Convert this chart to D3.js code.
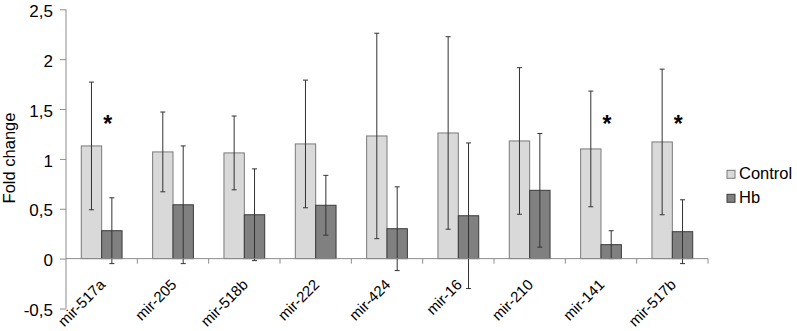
<!DOCTYPE html>
<html>
<head>
<meta charset="utf-8">
<script src="https://cdn.jsdelivr.net/npm/d3@7"></script>
<style>
  body { margin: 0; background: #fff; }
  svg text { font-family: "Liberation Sans", Arial, sans-serif; fill: #000; }
</style>
</head>
<body>
<div id="chart"></div>
<script>
var categories = ["mir-517a", "mir-205", "mir-518b", "mir-222", "mir-424", "mir-16", "mir-210", "mir-141", "mir-517b"];
var series = ["Control", "Hb"];
var control = [1.13, 1.07, 1.06, 1.15, 1.23, 1.26, 1.18, 1.10, 1.17];
var controlErr = [0.64, 0.40, 0.37, 0.64, 1.03, 0.965, 0.735, 0.58, 0.73];
var hb = [0.28, 0.54, 0.44, 0.535, 0.30, 0.43, 0.685, 0.14, 0.27];
var hbErr = [0.33, 0.59, 0.46, 0.30, 0.42, 0.73, 0.57, 0.14, 0.32];
var significant = ["mir-517a", "mir-141", "mir-517b"];
var yTicks = [-0.5, 0, 0.5, 1, 1.5, 2, 2.5];
var yTickLabels = ["-0,5", "0", "0,5", "1", "1,5", "2", "2,5"];

var width = 797, height = 331;
var plot = {left: 66, right: 708, top: 9.3, bottom: 308.5};

var svg = d3.select("#chart").append("svg")
  .attr("width", width)
  .attr("height", height);

// scales
var x0 = d3.scaleBand().domain(categories).range([plot.left, plot.right]).padding(0);
var gap = x0.bandwidth() * 0.75 / 1.75 / 2;
var x1 = d3.scaleBand().domain(series).range([gap, x0.bandwidth() - gap]).padding(0);
var y = d3.scaleLinear().domain([-0.5, 2.5]).range([plot.bottom, plot.top]);

var colors = {Control: "#d9d9d9", Hb: "#808080"};
var strokes = {Control: "#7a7a7a", Hb: "#3a3a3a"};

var rows = [];
categories.forEach(function(c, i) {
  rows.push({cat: c, s: "Control", v: control[i], e: controlErr[i]});
  rows.push({cat: c, s: "Hb", v: hb[i], e: hbErr[i]});
});

// y axis
var yAxis = svg.append("g")
  .attr("transform", "translate(" + plot.left + ",0)")
  .call(d3.axisLeft(y).tickValues(yTicks).tickSize(6).tickPadding(7)
    .tickFormat(function(d, i) { return yTickLabels[i]; }));
yAxis.select(".domain").attr("stroke", "#8c8c8c").attr("d", "M0," + y(2.5) + "V" + y(-0.5));
yAxis.selectAll(".tick line").attr("stroke", "#8c8c8c");
yAxis.selectAll(".tick text").attr("font-size", 17).attr("dy", "0.42em");

// bars
var bar = svg.selectAll(".bar")
  .data(rows)
  .enter()
  .append("g")
  .attr("class", "bar")
  .attr("transform", function(d) { return "translate(" + (x0(d.cat) + x1(d.s)) + ",0)"; });

bar.append("rect")
  .attr("x", 0)
  .attr("y", function(d) { return y(d.v); })
  .attr("width", x1.bandwidth())
  .attr("height", function(d) { return y(0) - y(d.v); })
  .attr("fill", function(d) { return colors[d.s]; })
  .attr("stroke", function(d) { return strokes[d.s]; })
  .attr("stroke-width", 1);

// x axis on zero line
var xAxis = svg.append("g")
  .attr("transform", "translate(0," + y(0) + ")");
xAxis.append("line")
  .attr("x1", plot.left).attr("x2", plot.right)
  .attr("stroke", "#8c8c8c");
xAxis.selectAll(".xtick")
  .data(categories)
  .enter()
  .append("line")
  .attr("x1", function(d) { return x0(d) + x0.bandwidth(); })
  .attr("x2", function(d) { return x0(d) + x0.bandwidth(); })
  .attr("y1", 0).attr("y2", 5)
  .attr("stroke", "#8c8c8c");

// error bars
var cap = 2.5;
bar.append("line")
  .attr("x1", x1.bandwidth() / 2).attr("x2", x1.bandwidth() / 2)
  .attr("y1", function(d) { return y(d.v + d.e); })
  .attr("y2", function(d) { return y(d.v - d.e); })
  .attr("stroke", "#333");
bar.append("line")
  .attr("x1", x1.bandwidth() / 2 - cap).attr("x2", x1.bandwidth() / 2 + cap)
  .attr("y1", function(d) { return y(d.v + d.e); })
  .attr("y2", function(d) { return y(d.v + d.e); })
  .attr("stroke", "#333");
bar.append("line")
  .attr("x1", x1.bandwidth() / 2 - cap).attr("x2", x1.bandwidth() / 2 + cap)
  .attr("y1", function(d) { return y(d.v - d.e); })
  .attr("y2", function(d) { return y(d.v - d.e); })
  .attr("stroke", "#333");

// category labels, rotated
svg.selectAll(".xlabel")
  .data(categories)
  .enter()
  .append("text")
  .attr("class", "xlabel")
  .attr("text-anchor", "end")
  .attr("font-size", 15)
  .attr("transform", function(d) {
    return "translate(" + (x0(d) + x0.bandwidth() / 2 + 4.5) + "," + (y(0) + 27) + ") rotate(-45)";
  })
  .text(function(d) { return d; });

// asterisks
svg.selectAll(".star")
  .data(significant)
  .enter()
  .append("text")
  .attr("class", "star")
  .attr("text-anchor", "middle")
  .attr("font-size", 23)
  .attr("font-weight", "bold")
  .attr("x", function(d) { return x0(d) + x0.bandwidth() / 2 + 6; })
  .attr("y", y(1.4) + 13)
  .text("*");

// y title
svg.append("text")
  .attr("text-anchor", "middle")
  .attr("font-size", 16.5)
  .attr("transform", "translate(15,158) rotate(-90)")
  .text("Fold change");

// legend
var legend = svg.selectAll(".legend")
  .data(series)
  .enter()
  .append("g")
  .attr("class", "legend")
  .attr("transform", function(d, i) { return "translate(727," + (179.3 + i * 24) + ")"; });
legend.append("rect")
  .attr("x", 0).attr("y", -9)
  .attr("width", 8).attr("height", 8)
  .attr("fill", function(d) { return colors[d]; })
  .attr("stroke", function(d) { return strokes[d]; });
legend.append("text")
  .attr("x", 12)
  .attr("font-size", 16.5)
  .text(function(d) { return d; });
</script>
</body>
</html>
